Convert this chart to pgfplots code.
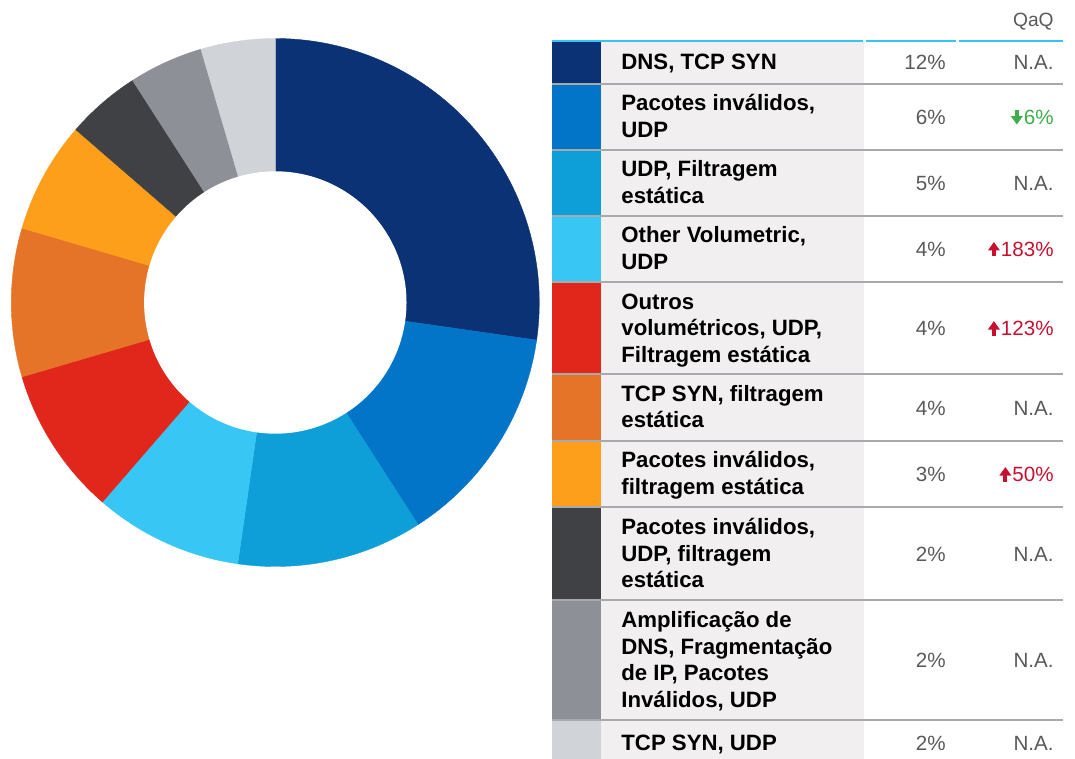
\documentclass[border=0pt]{standalone}
\usepackage{pgfplots}
\pgfplotsset{compat=1.18}
\usepackage{pgfplotstable}
\usepackage{fontspec}
\setmainfont{Liberation Sans}

\definecolor{c1}{HTML}{0B3275}
\definecolor{c2}{HTML}{0375C9}
\definecolor{c3}{HTML}{0E9FD8}
\definecolor{c4}{HTML}{38C6F4}
\definecolor{c5}{HTML}{E1261C}
\definecolor{c6}{HTML}{E57428}
\definecolor{c7}{HTML}{FE9F1B}
\definecolor{c8}{HTML}{404145}
\definecolor{c9}{HTML}{8D9197}
\definecolor{c10}{HTML}{D0D3D7}
\definecolor{cellbg}{HTML}{F1EFF0}
\definecolor{sepc}{HTML}{A7A9AC}
\definecolor{topline}{HTML}{35C5F0}
\definecolor{valgray}{HTML}{58595B}
\definecolor{upred}{HTML}{C8102E}
\definecolor{downgreen}{HTML}{3DAE49}

\pgfplotstableread{
val col
12 c1
6 c2
5 c3
4 c4
4 c5
4 c6
3 c7
2 c8
2 c9
2 c10
}\slices

\newcommand\uparr[1]{\tikz[baseline=0pt]{\fill[#1] (-1pt,0pt) rectangle (1pt,3.2pt); \fill[#1] (-3pt,3pt) -- (3pt,3pt) -- (0pt,7.2pt) -- cycle;}\hspace{0.5pt}}
\newcommand\downarr[1]{\tikz[baseline=0pt]{\fill[#1] (-1pt,4pt) rectangle (1pt,7.2pt); \fill[#1] (-3pt,4.2pt) -- (3pt,4.2pt) -- (0pt,0pt) -- cycle;}\hspace{0.5pt}}

\newcommand\lblfont{\fontsize{11.1}{13}\selectfont\bfseries\color{black}}
\newcommand\valfont{\fontsize{10.3}{12}\selectfont\color{valgray}}

\begin{document}
\begin{tikzpicture}
\path[use as bounding box] (0,0) rectangle (537.5pt,-379.5pt);
\begin{axis}[hide axis, scale only axis, width=264pt, height=264pt,
  xmin=-1, xmax=1, ymin=-1, ymax=1,
  at={(137.65pt,-151.25pt)}, anchor=center, clip=false]
\def\total{0}
\pgfplotsforeachungrouped \i in {0,...,9}{%
  \pgfplotstablegetelem{\i}{val}\of\slices
  \pgfmathsetmacro\total{\total+\pgfplotsretval}%
}
\def\cum{0}
\pgfplotsforeachungrouped \i in {0,...,9}{%
  \pgfplotstablegetelem{\i}{val}\of\slices \let\sliceval=\pgfplotsretval
  \pgfplotstablegetelem{\i}{col}\of\slices \let\slicecol=\pgfplotsretval
  \pgfmathsetmacro\angA{90-360*\cum/\total}%
  \pgfmathsetmacro\cum{\cum+\sliceval}%
  \pgfmathsetmacro\angB{90-360*\cum/\total}%
  \edef\cmd{\noexpand\addplot[fill=\slicecol, draw=\slicecol, line width=0.2pt, domain=\angB:\angA, samples=90] ({cos(x)},{sin(x)}) -- (axis cs:0,0) -- cycle;}%
  \cmd
}
\addplot[fill=white, draw=none, domain=0:360, samples=181] ({0.497*cos(x)},{0.497*sin(x)}) -- cycle;
\end{axis}
\begin{scope}[x=0.5pt,y=-0.5pt]
  \fill[cellbg] (601,42) rectangle (864,790);
  \fill[c1] (552,42) rectangle (601,84);
  \fill[c2] (552,84) rectangle (601,150);
  \fill[c3] (552,150) rectangle (601,216);
  \fill[c4] (552,216) rectangle (601,282);
  \fill[c5] (552,282) rectangle (601,374);
  \fill[c6] (552,374) rectangle (601,441);
  \fill[c7] (552,441) rectangle (601,507);
  \fill[c8] (552,507) rectangle (601,600);
  \fill[c9] (552,600) rectangle (601,720);
  \fill[c10] (552,720) rectangle (601,790);
  \foreach \yy in {84,150,216,282,374,441,507,600,720}
    \draw[sepc, line width=0.7pt] (552,\yy) -- (1063,\yy);
  \draw[topline, line width=1.2pt] (552,41) -- (862.5,41);
  \draw[topline, line width=1.2pt] (865.5,41) -- (955.5,41);
  \draw[topline, line width=1.2pt] (958.5,41) -- (1063,41);
  % header
  \node[anchor=base east, inner sep=0, font=\fontsize{9.6}{11}\selectfont, text=valgray] at (1054,27) {QaQ};
  % labels
  \begin{scope}[every node/.style={anchor=base west, inner sep=0, font=\lblfont}]
  \node at (621,70) {DNS, TCP SYN};
  \node at (621,110.75) {Pacotes inválidos,};
  \node at (621,137.25) {UDP};
  \node at (621,176.75) {UDP, Filtragem};
  \node at (621,203.25) {estática};
  \node at (621,242.75) {Other Volumetric,};
  \node at (621,269.25) {UDP};
  \node at (621,309) {Outros};
  \node at (621,335.5) {volumétricos, UDP,};
  \node at (621,362) {Filtragem estática};
  \node at (621,401.25) {TCP SYN, filtragem};
  \node at (621,427.75) {estática};
  \node at (621,467.75) {Pacotes inválidos,};
  \node at (621,494.25) {filtragem estática};
  \node at (621,534.5) {Pacotes inválidos,};
  \node at (621,561) {UDP, filtragem};
  \node at (621,587.5) {estática};
  \node at (621,627.75) {Amplificação de};
  \node at (621,654.25) {DNS, Fragmentação};
  \node at (621,680.75) {de IP, Pacotes};
  \node at (621,707.25) {Inválidos, UDP};
  \node at (621,750) {TCP SYN, UDP};
  \end{scope}
  % values
  \begin{scope}[every node/.style={anchor=base east, inner sep=0, font=\valfont}]
  \node at (946,70) {12\%};
  \node at (946,124.5) {6\%};
  \node at (946,190.5) {5\%};
  \node at (946,256.5) {4\%};
  \node at (946,335.5) {4\%};
  \node at (946,415) {4\%};
  \node at (946,481.5) {3\%};
  \node at (946,561) {2\%};
  \node at (946,667.5) {2\%};
  \node at (946,750) {2\%};
  \node at (1054,70) {N.A.};
  \node at (1054,124.5) {\color{downgreen}\downarr{downgreen}6\%};
  \node at (1054,190.5) {N.A.};
  \node at (1054,256.5) {\color{upred}\uparr{upred}183\%};
  \node at (1054,335.5) {\color{upred}\uparr{upred}123\%};
  \node at (1054,415) {N.A.};
  \node at (1054,481.5) {\color{upred}\uparr{upred}50\%};
  \node at (1054,561) {N.A.};
  \node at (1054,667.5) {N.A.};
  \node at (1054,750) {N.A.};
  \end{scope}
\end{scope}
\end{tikzpicture}
\end{document}
